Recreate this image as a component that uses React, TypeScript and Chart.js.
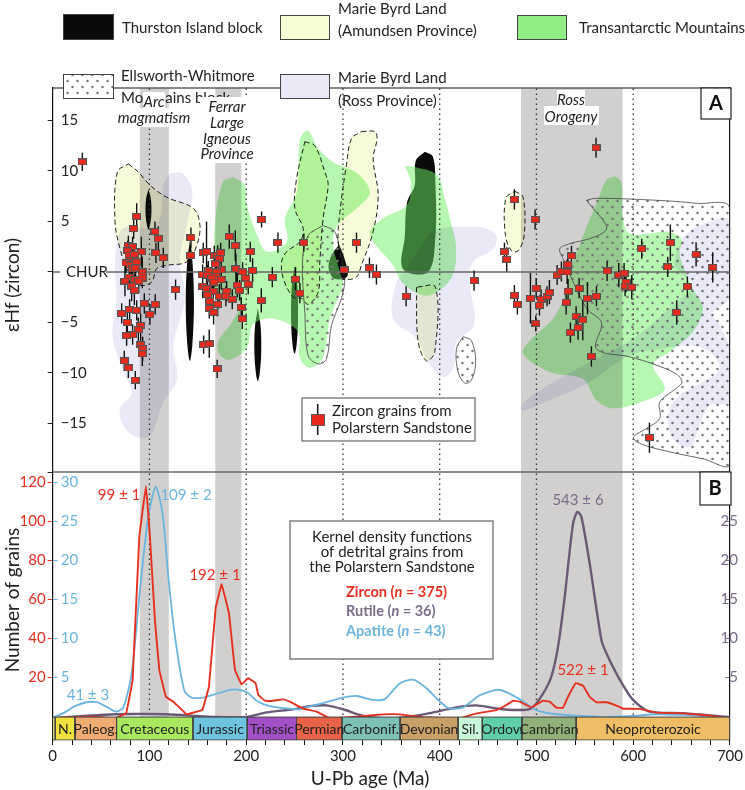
import React, { useEffect, useRef } from "react";
import { Chart, registerables } from "chart.js";

const blendPlugin = {
  id: "blendMode",
  beforeDatasetDraw(chart: any, args: any) {
    const ds = chart.data.datasets[args.index];
    chart.ctx.globalCompositeOperation = ds.blend || "source-over";
  },
  afterDatasetDraw(chart: any) {
    chart.ctx.globalCompositeOperation = "source-over";
  },
};
Chart.register(blendPlugin, ...registerables);

type P = [number, number];

const zirconAge = [30.6,86.8,83.7,105.7,109.2,78.2,82.6,77.5,91.6,106.7,78.9,84.4,114.3,80.2,75.8,84.4,79.9,86.8,82.6,85.7,92.6,92.6,79.2,92.6,85,74.7,89,81.6,84.4,127,94.7,106,79.5,86.8,100.5,71.3,77.1,90.9,88.5,82.6,76.4,90.9,93,92.6,74,78.2,85.4,142.9,142.6,155.6,159,167,170.5,173.6,172.2,182.5,188.7,168,174.2,189.4,160.8,169.4,155,160.1,168.7,164.6,174.2,166.7,196.3,199.7,202.1,206.6,204.2,215.9,232.8,227,190.8,155,159,166,179.8,193.2,160.1,172.2,179,185.6,162.5,215.6,170.5,194.9,161.8,166.3,196,156,161.8,170,251,255.5,259.6,314,301.2,327.4,334.6,365.3,435.5,466.9,469.3,477.2,477.2,480.3,498.6,493.8,499.3,499.7,504.8,503.1,511,513.4,521.4,525.8,531.7,532.4,536.2,532.7,530.7,544.1,552.7,562,541,547.9,543,535.1,556.8,561.6,573,585.1,590.6,592.6,591.6,598.5,608.8,638.4,635.7,665,682.2,656,645,616.8];
const zirconHf = [10.9,5.5,4.3,4,3.3,2.6,2.5,2.1,2,1.9,1.65,1.75,1.4,1.15,0.9,0.9,0.7,1,0.3,0.4,0,-0.3,-0.5,-0.6,-0.75,-0.9,-0.9,-1.4,-1.8,-1.75,-3.1,-3.2,-3.7,-3.8,-4.2,-4.1,-5,-5.3,-5.7,-6.2,-6.3,-7.2,-7.6,-8.1,-8.8,-9.5,-10.7,3.4,1.65,1.9,2,1.6,1.65,1.9,1.3,3.5,2.6,0.8,0.2,0.3,0.1,0,-0.25,-0.3,-0.45,-0.6,-0.75,-1,0,-0.6,-1.2,0.15,2,5.2,2.9,-0.5,-1.3,-1.4,-1.65,-1.9,-1.9,-1.8,-2.25,-2.4,-2.4,-2.7,-2.9,-2.8,-3.2,-3.5,-3.6,-4,-4.65,-7.2,-7.1,-9.6,-0.7,-2.1,2.9,2.9,0.2,0.4,-0.25,-2.4,-0.85,2,1.25,7.2,-2.3,-3.2,5.2,-2.6,-5.1,-1.6,-2.7,-3.3,-2.4,-2,-0.3,0.05,0,0.75,1.6,-1.9,-3,-1.6,-2.6,-2.4,-4.4,-4.75,-5.5,-6,-8.35,12.3,0.1,-0.3,-0.1,-1,-1.4,-1.5,2.3,2.9,0.5,1.75,0.45,-1.45,-4,-16.4];
const zirconErr = [0.9,1.3,1,1,1.2,1,1,1,1.5,1,1,1,1,1,1,1,1,1,1,1,1.5,1,1,1,1.2,1.5,1.2,1.5,1.5,1,1,1,1,1,1,1,1,1.2,1.2,1,1,1.2,1.2,1.2,1,1,0.9,1,1,1,3,1,1,1,1,1.2,1.5,1,1,1.5,1,1,1,1,1,1,1,1,1,1,1,1.2,1,0.8,1,1,1.2,1.2,1,1,1,1,1,1.2,1,1,1.2,1.2,1.2,1,1,1.2,1,0.9,1.4,0.9,1.2,1,0.9,1,1,1,1,1,1,0.9,1.2,1,1,1,1,2.5,0.8,1,1,1,1,1.2,1,1,1.2,1,1,1.2,1.2,1,1.6,1,1,2,1.2,1,1,1,1,1.2,1,1,1,1.2,1,1.8,1,1.2,1.5,1,1.2,1.5];

const zirconKde: P[] = [[0.7,-1],[21.3,-0.5],[42,-0.2],[64.4,-1],[75.8,1.5],[82.6,18.6],[89.5,92],[96.4,118],[100.5,92],[105.7,49],[110.2,23.8],[117,10],[124.7,7.5],[138.4,1],[145.3,1.9],[154.6,3.2],[161.5,15.2],[168.4,55.4],[174.6,67.7],[182.2,52.8],[188.4,23.8],[195.2,16.4],[202.1,19.5],[209.7,17],[212.5,11],[219.4,8],[228,8],[238.3,8.7],[245.2,7.5],[258.9,4],[272.7,2.4],[286.4,-1],[314,-0.2],[341.5,1],[358.7,1],[382.8,-0.5],[420.7,-1],[437.9,1.5],[458.6,3.2],[468.9,5.8],[475.8,8],[482.7,7.5],[494.7,4.6],[506.8,8],[513.7,7.5],[520.6,4.4],[527.5,4.4],[532.6,10],[540.6,17],[548.1,15.7],[555,10],[561.9,7.2],[572.2,7.2],[582.6,5.5],[589.5,3.9],[606.7,3.8],[623.9,1.9],[651.4,1.5],[672.1,0.7],[699.7,-1]];
const apatiteKde: P[] = [[0.7,-0.1],[11,0.4],[23,1.3],[35,1.8],[45.5,1.8],[55.8,1.2],[65.4,0.6],[73,1.15],[81.6,5.5],[90.2,16.2],[98.8,25.6],[106.4,29.4],[113.3,26.2],[119.5,17.9],[126.4,10.2],[136,3.3],[143.6,2.4],[155.6,2.4],[169.4,2.9],[183.2,3.4],[193.5,3.4],[202.1,3],[210.7,2],[224.5,1.3],[241.7,1],[255.5,0.9],[262.3,1.15],[279.5,1.7],[300.2,2.4],[314,2.6],[331.2,2.1],[343.2,2.2],[358.7,4.2],[372.5,4.7],[386.3,3.6],[400.1,1.9],[410.4,1],[424.2,1.15],[441.4,2.7],[460.3,3.4],[472.4,2.9],[486.2,1.9],[499.9,0.8],[520.6,0.26],[555,0],[572.2,-0.1],[599.8,0.04],[623.9,0.26],[651.4,0.17],[675.5,0],[699.7,-0.25]];
const rutileKde: P[] = [[0.7,-0.25],[48.9,0.17],[83.3,0.3],[117.8,0.26],[169.4,-0.1],[200.4,-0.1],[221.1,0.5],[248.6,0.9],[265.8,1.3],[283,1.4],[300.2,0.9],[320.9,0.04],[341.5,-0.25],[365.6,-0.1],[389.7,0.4],[417.3,1.15],[437.9,1.4],[458.6,1],[479.3,0.8],[494.7,1],[506.8,2.9],[515.4,5.1],[522.3,8.9],[529.2,15.3],[537.8,24.7],[542.3,26.2],[546.4,25.6],[555,19.6],[567.1,9.8],[572.2,8.1],[584.3,5.1],[599.8,2.1],[617,0.6],[651.4,0.4],[699.7,-0.1]];

const thurston1: P[] = [[99,8.2],[101.5,7.2],[102,5.8],[100.5,4.6],[99,4.2],[97.5,4.6],[96,5.8],[96.5,7.2]];
const thurston2: P[] = [[141.8,3.1],[144.5,1],[146,-3],[144.5,-7],[141.8,-8.8],[139,-7],[137.5,-3],[139,1]];
const thurston3: P[] = [[212,-3.6],[215,-5.5],[215.5,-8],[214,-10],[212,-10.8],[210,-10],[208.5,-8],[209,-5.5]];
const thurston4: P[] = [[250,0.6],[253,-1.5],[253.5,-5],[252,-7.3],[250,-8.1],[248,-7.3],[246.5,-5],[247,-1.5]];
const thurston5: P[] = [[296,2.7],[301,1.5],[305,-0.3],[299,-0.7],[290,-0.6],[285,0.5],[289,1.8]];
const thurston6: P[] = [[384.5,11.9],[393,11.4],[395.6,8.6],[395.6,3.6],[388,0],[362,0.3],[364,3.6],[366.3,6.9],[374.2,8.6],[375.2,11]];

const tamJurassic: P[] = [[186.3,9.4],[198.7,8.6],[200.7,6.6],[211,3.7],[221.4,2],[242,3],[240,5.3],[252.4,7.9],[255.5,13.1],[263.7,14],[274,12.3],[289.5,10.9],[314.3,9.8],[327.8,7.9],[314.3,6.3],[294.7,4.7],[289.5,3],[296.8,0],[299.9,-1.3],[286.5,-4.6],[279.3,-8.5],[265.9,-9.5],[255.5,-8.5],[253.5,-5.9],[227.6,-4.6],[206.9,-5.2],[200.7,-7.5],[183.2,-8.7],[172.9,-8.2],[170.8,-6.9],[185.2,-5],[193.5,-3],[169.8,-2.6],[167.7,0],[167.7,4.7],[175.9,8.9]];
const tamDevonian: P[] = [[363.9,10.5],[374.2,10.4],[397,9.6],[405.3,7.3],[410.5,5.3],[416.7,2.7],[413.6,-0.3],[397,-2],[382.6,-2.3],[361.9,-1.1],[351.5,0.7],[327.8,3.7],[341.2,5.3],[366,6.6],[370.1,8.9]];
const tamRoss: P[] = [[580.9,9.5],[587.8,8.9],[589.5,5.3],[596.4,3.8],[617.1,3.8],[634.3,4],[649.8,3.3],[648.1,1.65],[661.9,-1.65],[672.2,-3.6],[661.9,-5.9],[637.8,-7.9],[620.5,-9.2],[632.6,-11.55],[613.6,-12.7],[579.2,-13.5],[562,-12.7],[548.2,-10.6],[513.8,-9.9],[486.2,-8.1],[493.1,-6.8],[517.2,-4.6],[529.3,-2.3],[534.4,0],[548.2,3.6],[565.4,7.6],[572.3,9.1]];

const rossCretaceous: P[] = [[121.2,9.8],[135,9.7],[144.3,7.9],[138.4,4.6],[131.5,1],[136.7,-2.6],[124.7,-7.3],[128.8,-10.6],[114.3,-12.9],[100.6,-16.2],[85,-16.3],[73,-15.2],[69.6,-13.5],[81.6,-12],[73,-9.9],[62,-6.3],[66.1,-2.6],[64.4,1],[69.6,4],[79.9,4.5],[100.5,4.3],[110.9,5.3],[114.3,8.6]];
const rossDevonian: P[] = [[413.8,4.5],[444.8,4.4],[458.6,3.6],[455.2,2.3],[434.5,1],[431,-1],[435.5,-5.3],[417.3,-6.9],[413.8,-9.6],[403.5,-10.4],[389.7,-9.2],[376,-6.6],[351.8,-4.6],[355.3,-1],[365.6,0.3],[377.7,2],[393.2,4]];
const rossNeoprot: P[] = [[651.5,3.5],[668.7,4.6],[699.7,5.1],[699.7,-2.6],[682.5,-4],[689.4,-5.3],[699.7,-7.6],[699.7,-12.9],[679,-13.2],[668.7,-15.2],[658.4,-17.3],[641.2,-16.5],[636,-14],[648.1,-12.2],[672.2,-10.9],[689.4,-9.6],[679,-7.9],[658.4,-7.3],[630.9,-7.6],[596.4,-8.25],[555.1,-10.9],[513.8,-12.7],[486.2,-13.7],[484.5,-13.2],[503.5,-11.7],[555.1,-8.9],[599.9,-6.6],[644.6,-3],[661.9,-1.3],[642.9,0.66]];

const amundsen1: P[] = [[78.2,10.7],[88.5,9.9],[100.5,8.6],[117.8,7.4],[145.3,6.3],[152.2,4.6],[148.8,2.6],[138.4,1],[117.8,0.66],[107.4,0.33],[102.3,-1],[90.2,-1.3],[78.2,0],[69.6,2.3],[64.4,5],[66.8,9.9]];
const amundsen2: P[] = [[260.6,12.9],[270.9,12.5],[281.3,9.9],[284.7,8.6],[279.5,5.3],[276.1,1],[274.4,-2],[264,-3.2],[257.2,-2.6],[248.6,-2.5],[238.3,-0.66],[236.6,1],[241.7,2],[255.5,3],[258.9,4.3],[250.3,6.3],[252,9.2]];
const amundsen3: P[] = [[319.1,13.9],[332.9,13.9],[335.3,13.2],[331.2,11.2],[336.4,7.6],[331.2,4],[319.1,0.66],[314,-0.5],[303.6,-0.66],[300,0.66],[295,3],[296.8,5.9],[303.6,10.6],[308.8,13.2]];
const amundsen4: P[] = [[376,-1.5],[377.7,-6.9],[386.3,-8.8],[394.9,-7.9],[395.6,-1.5]];
const amundsen5: P[] = [[477.6,8],[486.2,7.4],[487.3,3.6],[481.1,2.1],[474.2,2.1],[468,3.6],[468.3,7.3]];

const ellsworth1: P[] = [[279.5,4.6],[291.6,4],[296.8,2],[301.9,-0.66],[298.5,-2.6],[288.1,-5.3],[283,-8.6],[274.4,-9.1],[264,-8.25],[260.6,-4],[258.2,1],[264,3.6]];
const ellsworth2: P[] = [[424.2,-6.4],[432.8,-6.8],[437.2,-8.9],[432.8,-10.7],[425.9,-11],[419,-9.9],[417.3,-7.6]];
const ellsworth3: P[] = [[551.7,7.1],[562,7.3],[624,7.1],[665.3,6.8],[699.7,6.3],[699.7,-19],[672.2,-18.5],[624,-17.5],[603.3,-16.8],[600.6,-16.3],[613.6,-15.5],[627.4,-14.5],[627.4,-12.9],[644.6,-11.5],[650.5,-10.9],[644.6,-10.1],[620.5,-9.1],[596.4,-8.4],[562,-7.6],[567.2,-5],[551.7,-3.6],[527.6,1.3],[524.1,2.3],[534.4,2.8],[555.1,3.3],[570.6,4],[572.3,4.6],[558.5,6.3]];

const bands: P[] = [[90, 120], [168, 195], [484, 589]];
const dottedAges = [100, 200, 300, 400, 500, 600];

const periodNames = ["", "N.", "Paleog.", "Cretaceous", "Jurassic", "Triassic", "Permian", "Carbonif.", "Devonian", "Sil.", "Ordov.", "Cambrian", "Neoproterozoic"];
const periodStart = [0, 2.6, 23, 66, 145, 201, 252, 299, 359, 419, 444, 485, 541];
const periodEnd = [2.6, 23, 66, 145, 201, 252, 299, 359, 419, 444, 485, 541, 700];
const periodColor = ["#f6f08a", "#f0e23e", "#f0ab73", "#a9e85e", "#6cc4df", "#a350c8", "#e86247", "#7dc0b8", "#c9a066", "#c9f8d8", "#5fcfa8", "#8fb078", "#efbd66"];

const FONT = "Lato";
const RED = "#e5301f";
const BLUE = "#6ab4dd";
const PURPLE = "#6b5a76";
const PURPLE_TXT = "#7a6c8a";
const GREEN = "rgba(110,240,100,0.5)";
const ROSS = "#e9e9f8";
const AMUNDSEN = "#f8fbda";
const BAND = "#d1d0cf";

const closed = (p: P[]) => [...p, p[0]].map(([x, y]) => ({ x, y }));
const curve = (p: P[]) => p.map(([x, y]) => ({ x, y }));

function makeDots() {
  const c = document.createElement("canvas");
  c.width = 10;
  c.height = 12;
  const g = c.getContext("2d")!;
  g.fillStyle = "#777";
  [[2.5, 3], [7.5, 9]].forEach(([x, y]) => {
    g.beginPath();
    g.arc(x, y, 1.25, 0, Math.PI * 2);
    g.fill();
  });
  return c;
}
function makeMarker() {
  const c = document.createElement("canvas");
  c.width = 9;
  c.height = 7;
  const g = c.getContext("2d")!;
  g.fillStyle = "#555";
  g.fillRect(0, 0, 9, 7);
  g.fillStyle = "#e8291c";
  g.fillRect(1, 1, 7, 5);
  return c;
}

export default function App() {
  const ref = useRef<HTMLCanvasElement>(null);
  useEffect(() => {
    const canvas = ref.current!;
    const dots = canvas.getContext("2d")!.createPattern(makeDots(), "repeat")!;

    const blob = (p: P[], o: any, order: number, extra: any = {}) => ({
      data: closed(p), yAxisID: "yA", fill: "shape", tension: 0.35, order,
      backgroundColor: o.bg, borderColor: o.line || "rgba(0,0,0,0)", borderWidth: o.w || 0, borderDash: o.dash || [], blend: o.blend, ...extra,
    });
    const black = { bg: "#0a0a0a" };
    const green = { bg: GREEN };
    const ross = { bg: ROSS, blend: "multiply" };
    const amu = { bg: AMUNDSEN, line: "#222", w: 1, dash: [5, 3], blend: "multiply" };
    const ell = { bg: dots, line: "#444", w: 0.8 };

    const errSegments: any[] = [];
    zirconAge.forEach((a, i) => {
      errSegments.push({ x: a, y: zirconHf[i] - zirconErr[i] }, { x: a, y: zirconHf[i] + zirconErr[i] }, { x: a, y: NaN });
    });

    const text = (ctx: any, s: string, x: number, y: number, font: string, color = "#222", align = "left") => {
      ctx.font = font;
      ctx.fillStyle = color;
      ctx.textAlign = align;
      ctx.textBaseline = "middle";
      ctx.fillText(s, x, y);
    };

    const overlay = {
      id: "overlay",
      beforeDraw(chart: any) {
        const c = chart.ctx;
        c.save();
        c.fillStyle = "#fff";
        c.fillRect(0, 0, chart.width, chart.height);
        c.restore();
      },
      afterDraw(chart: any) {
        const c = chart.ctx;
        const { x: xs } = chart.scales;
        c.save();
        const f15 = `15px ${FONT}`;
        const f16 = `16px ${FONT}`;
        // panel frame top
        c.strokeStyle = "#111";
        c.lineWidth = 1.2;
        c.beginPath();
        c.moveTo(52.7, 88);
        c.lineTo(730.5, 88);
        c.stroke();
        // legend
        const sw = (x: number, y: number, w: number, h: number, fill: any) => {
          c.fillStyle = "#fff";
          c.fillRect(x, y, w, h);
          c.fillStyle = fill;
          c.fillRect(x, y, w, h);
          c.strokeStyle = "#444";
          c.lineWidth = 1;
          c.strokeRect(x + 0.5, y + 0.5, w - 1, h - 1);
        };
        sw(63, 14, 51, 26, "#0a0a0a");
        sw(280, 15, 50, 25, "#f8fcd4");
        sw(517, 15, 50, 25, "#90ee85");
        sw(63, 74, 51, 25, dots);
        sw(280, 74, 50, 25, ROSS);
        text(c, "Thurston Island block", 122, 28, f15);
        text(c, "Marie Byrd Land", 338, 9, f15);
        text(c, "(Amundsen Province)", 338, 31, f15);
        text(c, "Transantarctic Mountains", 579, 28, f15);
        text(c, "Ellsworth-Whitmore", 121, 76, f15);
        text(c, "Mountains block", 121, 98, f15);
        text(c, "Marie Byrd Land", 338, 78, f15);
        text(c, "(Ross Province)", 338, 101, f15);

        // white boxes and band captions
        c.fillStyle = "#fff";
        c.fillRect(143, 92, 22, 16);
        c.fillRect(116, 108, 76, 19);
        c.fillRect(200, 97, 56, 66);
        c.fillRect(557, 90, 28, 16);
        c.fillRect(544, 106, 55, 19);
        const it = `italic 15px ${FONT}`;
        text(c, "Arc", 154, 102, it, "#222", "center");
        text(c, "magmatism", 154, 118, it, "#222", "center");
        text(c, "Ferrar", 227, 107, it, "#222", "center");
        text(c, "Large", 227, 123, it, "#222", "center");
        text(c, "Igneous", 227, 139, it, "#222", "center");
        text(c, "Province", 227, 154, it, "#222", "center");
        text(c, "Ross", 571, 100, it, "#222", "center");
        text(c, "Orogeny", 571, 117, it, "#222", "center");

        // CHUR
        c.fillStyle = "#fff";
        c.fillRect(60, 263, 46, 18);
        text(c, "CHUR", 66, 272, f15);

        // panel tags
        c.fillStyle = "#fff";
        c.strokeStyle = "#222";
        c.lineWidth = 1.2;
        c.fillRect(701, 88, 30, 31);
        c.strokeRect(701, 88, 30, 31);
        c.fillRect(700, 472, 31, 33);
        c.strokeRect(700, 472, 31, 33);
        text(c, "A", 716, 104, `bold 20px ${FONT}`, "#111", "center");
        text(c, "B", 715, 489, `bold 20px ${FONT}`, "#111", "center");

        // zircon legend box
        c.fillStyle = "#fff";
        c.strokeStyle = "#666";
        c.lineWidth = 1.2;
        c.fillRect(302, 398, 173, 43);
        c.strokeRect(302, 398, 173, 43);
        c.strokeStyle = "#111";
        c.lineWidth = 1.5;
        c.beginPath();
        c.moveTo(317.7, 404);
        c.lineTo(317.7, 435);
        c.stroke();
        c.fillStyle = "#555";
        c.fillRect(311, 414, 14, 12);
        c.fillStyle = "#e8291c";
        c.fillRect(312, 415, 12, 10);
        text(c, "Zircon grains from", 332, 411, f15);
        text(c, "Polarstern Sandstone", 332, 428, f15);

        // KDE box
        c.fillStyle = "#fff";
        c.strokeStyle = "#777";
        c.lineWidth = 1.4;
        c.fillRect(290, 521, 203, 138);
        c.strokeRect(290, 521, 203, 138);
        text(c, "Kernel density functions", 392, 537.5, f15, "#222", "center");
        text(c, "of detrital grains from", 392, 552.5, f15, "#222", "center");
        text(c, "the Polarstern Sandstone", 392, 567.5, f15, "#222", "center");
        const runs = (label: string, n: string, color: string, x: number, y: number) => {
          const b = `bold 14.5px ${FONT}`;
          const bi = `italic bold 14.5px ${FONT}`;
          c.font = b;
          const a = `${label} (`;
          text(c, a, x, y, b, color);
          let px = x + c.measureText(a).width;
          text(c, "n", px, y, bi, color);
          c.font = bi;
          px += c.measureText("n").width;
          text(c, ` = ${n})`, px, y, b, color);
        };
        runs("Zircon", "375", RED, 346, 592);
        runs("Rutile", "36", PURPLE_TXT, 346, 611);
        runs("Apatite", "43", BLUE, 346, 631);

        // peak labels
        text(c, "99 ± 1", 119, 495, f15, RED, "center");
        text(c, "109 ± 2", 186, 495, f15, BLUE, "center");
        text(c, "192 ± 1", 215, 575, f15, RED, "center");
        text(c, "41 ± 3", 88, 695, f15, BLUE, "center");
        text(c, "543 ± 6", 578, 500, f15, PURPLE_TXT, "center");
        text(c, "522 ± 1", 583, 670, f15, RED, "center");

        // time scale labels
        periodNames.forEach((name, i) => {
          if (!name) return;
          const mid = (xs.getPixelForValue(periodStart[i]) + xs.getPixelForValue(periodEnd[i])) / 2;
          text(c, name, mid, 729, `14px ${FONT}`, "#222", "center");
        });

        // axis titles
        text(c, "U-Pb age (Ma)", 370, 779, `19px ${FONT}`, "#222", "center");
        c.save();
        c.translate(13, 285);
        c.rotate(-Math.PI / 2);
        text(c, "εHf (zircon)", 0, 0, `19px ${FONT}`, "#222", "center");
        c.restore();
        c.save();
        c.translate(13, 600);
        c.rotate(-Math.PI / 2);
        text(c, "Number of grains", 0, 0, `19px ${FONT}`, "#222", "center");
        c.restore();
        c.restore();
      },
    };

    const tickFont = { family: FONT, size: 15 };
    const fixTicks = (vals: number[]) => (scale: any) => {
      scale.ticks = vals.map((value) => ({ value }));
    };
    const zeroWidth = (scale: any) => {
      scale.width = 0;
    };

    const datasets: any[] = [
      ...[thurston1, thurston2, thurston3, thurston4, thurston5, thurston6].map((p) => blob(p, black, 100)),
      ...[tamJurassic, tamDevonian, tamRoss].map((p) => blob(p, green, 90)),
      ...bands.map(([a, b]) => ({
        data: [{ x: a, y: 322 }, { x: b, y: 322 }, { x: b, y: -0.3 }, { x: a, y: -0.3 }, { x: a, y: 322 }],
        yAxisID: "yZ", fill: "shape", backgroundColor: BAND, borderWidth: 0, blend: "multiply", order: 80,
      })),
      ...[ellsworth1, ellsworth2, ellsworth3].map((p) => blob(p, ell, 70)),
      ...[amundsen1, amundsen2, amundsen3, amundsen4, amundsen5].map((p) => blob(p, amu, 60)),
      ...[rossCretaceous, rossDevonian, rossNeoprot].map((p) => blob(p, ross, 50)),
      ...dottedAges.map((a) => ({
        data: [{ x: a, y: 322 }, { x: a, y: 0 }],
        yAxisID: "yZ", borderColor: "#333", borderWidth: 1.3, borderDash: [1.5, 3.5], order: 40,
      })),
      { data: [{ x: 0, y: 0 }, { x: 700, y: 0 }], yAxisID: "yA", borderColor: "#666", borderWidth: 1.6, order: 30 },
      { data: [{ x: 0, y: -19.8 }, { x: 700, y: -19.8 }], yAxisID: "yA", borderColor: "#666", borderWidth: 1.6, order: 30 },
      { data: curve(rutileKde), yAxisID: "yR", borderColor: PURPLE, borderWidth: 2.4, tension: 0.25, order: 22 },
      { data: curve(apatiteKde), yAxisID: "yAp", borderColor: BLUE, borderWidth: 1.8, tension: 0.25, order: 21 },
      { data: curve(zirconKde), yAxisID: "yZ", borderColor: RED, borderWidth: 1.9, tension: 0.05, order: 20 },
      { data: errSegments, yAxisID: "yA", borderColor: "#111", borderWidth: 1.4, order: 12 },
      {
        data: zirconAge.map((a, i) => ({ x: a, y: zirconHf[i] })),
        yAxisID: "yA", showLine: false, pointStyle: makeMarker(), pointRadius: 4, order: 10,
      },
      ...periodNames.map((_, i) => ({
        data: [{ x: periodStart[i], y: -0.4 }, { x: periodEnd[i], y: -0.4 }, { x: periodEnd[i], y: -12.15 }, { x: periodStart[i], y: -12.15 }, { x: periodStart[i], y: -0.4 }],
        yAxisID: "yZ", fill: "shape", backgroundColor: periodColor[i], borderColor: "#444", borderWidth: 1, order: 5,
      })),
    ];

    const chart = new Chart(canvas, {
      type: "line",
      data: { datasets },
      plugins: [overlay],
      options: {
        responsive: false,
        animation: false,
        events: [],
        layout: { padding: { top: 88, right: 14.5, left: 0, bottom: 0 } },
        elements: { point: { radius: 0 }, line: { fill: false } },
        plugins: { legend: { display: false }, tooltip: { enabled: false }, title: { display: false } },
        scales: {
          x: {
            type: "linear", min: 0, max: 700, position: "bottom",
            border: { color: "#111", width: 1.2 },
            grid: { drawOnChartArea: false, tickLength: 5, color: "#111" },
            ticks: {
              stepSize: 20, maxRotation: 0, autoSkip: false, padding: 2, color: "#222", font: tickFont,
              callback: (v: any) => (v % 100 === 0 ? String(v) : ""),
            },
            afterFit: (s: any) => { s.height = 50; },
          },
          yZ: {
            axis: "y", position: "left", weight: 10, min: -12.15, max: 322.2,
            border: { display: false },
            grid: { drawOnChartArea: false, tickLength: 5, color: RED },
            ticks: { color: RED, font: tickFont, autoSkip: false, padding: 2 },
            afterBuildTicks: fixTicks([20, 40, 60, 80, 100, 120]),
            afterFit: (s: any) => { s.width = 52.7; },
          },
          yA: {
            axis: "y", position: "left", weight: 0, min: -46.34, max: 18.218,
            border: { color: "#111", width: 1.2 },
            grid: { drawOnChartArea: false, tickLength: 5, color: "#222" },
            ticks: {
              mirror: true, padding: 8, color: "#222", font: tickFont, autoSkip: false,
              callback: (v: any) => (v === -19.9 ? "" : String(v).replace("-", "−")),
            },
            afterBuildTicks: fixTicks([15, 10, 5, 0, -5, -10, -15, -19.9]),
            afterFit: zeroWidth,
          },
          yAp: {
            axis: "y", position: "left", weight: 0, min: -3.04, max: 80.55,
            border: { display: false },
            grid: { drawOnChartArea: false, tickLength: -5, color: BLUE },
            ticks: { mirror: true, padding: 8, color: BLUE, font: tickFont, autoSkip: false },
            afterBuildTicks: fixTicks([5, 10, 15, 20, 25, 30]),
            afterFit: zeroWidth,
          },
          yR: {
            axis: "y", position: "right", min: -3.04, max: 80.55,
            border: { color: "#111", width: 1.2 },
            grid: { drawOnChartArea: false, tickLength: -5, color: PURPLE_TXT },
            ticks: { mirror: true, padding: 8, color: PURPLE_TXT, font: tickFont, autoSkip: false },
            afterBuildTicks: fixTicks([5, 10, 15, 20, 25]),
            afterFit: zeroWidth,
          },
        },
      } as any,
    } as any);
    return () => chart.destroy();
  }, []);
  return (
    <canvas
      ref={ref}
      width={745}
      height={790}
      style={{ position: "absolute", left: 0, top: 0, width: 745, height: 790, display: "block" }}
    />
  );
}
